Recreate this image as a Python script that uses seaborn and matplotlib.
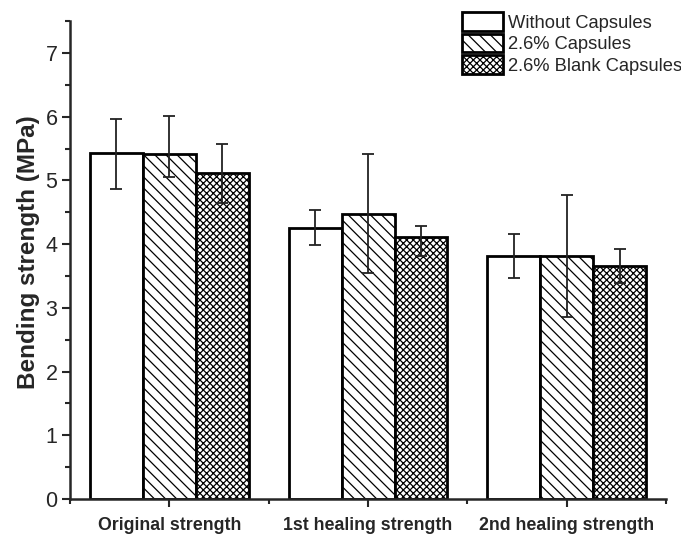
import pandas as pd
import matplotlib
matplotlib.use('Agg')
import matplotlib.pyplot as plt
import seaborn as sns
from matplotlib.ticker import MultipleLocator, FixedLocator
from matplotlib.patches import Patch

# 데이터
groups = ['Original strength', '1st healing strength', '2nd healing strength']
series = ['Without Capsules', '2.6% Capsules', '2.6% Blank Capsules']
without_caps = [5.43, 4.26, 3.82]
caps = [5.42, 4.48, 3.82]
blank_caps = [5.11, 4.12, 3.65]
# 오차막대 (아래, 위)
err_low = [[0.56, 0.28, 0.35], [0.37, 0.94, 0.96], [0.46, 0.31, 0.26]]
err_high = [[0.54, 0.28, 0.34], [0.60, 0.94, 0.95], [0.46, 0.17, 0.27]]
hatches = ['', '\\\\\\', 'xxxxx']

sns.set_style('ticks')
plt.rcParams['font.family'] = ['Liberation Sans', 'DejaVu Sans']
plt.rcParams['hatch.color'] = '#333333'
plt.rcParams['hatch.linewidth'] = 0.9

df = pd.DataFrame({
    'group': groups * 3,
    'type': [s for s in series for _ in groups],
    'value': without_caps + caps + blank_caps,
})

fig = plt.figure(figsize=(6.81, 5.39), dpi=100)
ax = fig.add_axes([0.1028, 0.0742, 0.8752, 0.8864])

sns.barplot(data=df, x='group', y='value', hue='type', order=groups, hue_order=series,
            palette=['white'] * 3, edgecolor='black', linewidth=2, width=0.8,
            errorbar=None, legend=False, ax=ax)

bar_conts = list(ax.containers)
for i, cont in enumerate(bar_conts):
    xs = []
    for bar in cont.patches:
        bar.set_hatch(hatches[i])
        xs.append(bar.get_x() + bar.get_width() / 2)
    vals = [without_caps, caps, blank_caps][i]
    ax.errorbar(xs, vals, yerr=[err_low[i], err_high[i]], fmt='none',
                ecolor='#222222', elinewidth=1.3, capsize=4, capthick=1.3, zorder=5)

ax.set_xlim(-0.5, 2.5)
ax.set_ylim(0, 7.5)
ax.yaxis.set_major_locator(MultipleLocator(1))
ax.yaxis.set_minor_locator(MultipleLocator(0.5))
ax.xaxis.set_minor_locator(FixedLocator([-0.5, 0.5, 1.5, 2.5]))
ax.tick_params(axis='both', which='major', direction='out', length=6, width=1.5)
ax.tick_params(axis='both', which='minor', direction='out', length=3.5, width=1.5)
ax.tick_params(axis='y', labelsize=15.5, pad=3)
ax.tick_params(axis='x', labelsize=12.8, pad=7)
for lab in ax.get_xticklabels():
    lab.set_fontweight('bold')
for s in ['left', 'bottom']:
    ax.spines[s].set_linewidth(1.8)
sns.despine(ax=ax)

ax.set_xlabel('')
ax.set_ylabel('Bending strength (MPa)', fontsize=17.5, fontweight='bold')
ax.yaxis.set_label_coords(-0.05, 0.517)

handles = [Patch(facecolor='white', edgecolor='black', linewidth=2, hatch=h) for h in hatches]
fig.legend(handles, series, loc='upper left', bbox_to_anchor=(0.679, 0.977), frameon=False,
           fontsize=13.2, handlelength=2.2, handleheight=1.15, handletextpad=0.3,
           labelspacing=0.12, borderaxespad=0, borderpad=0)

plt.savefig('out.png', dpi=100)
